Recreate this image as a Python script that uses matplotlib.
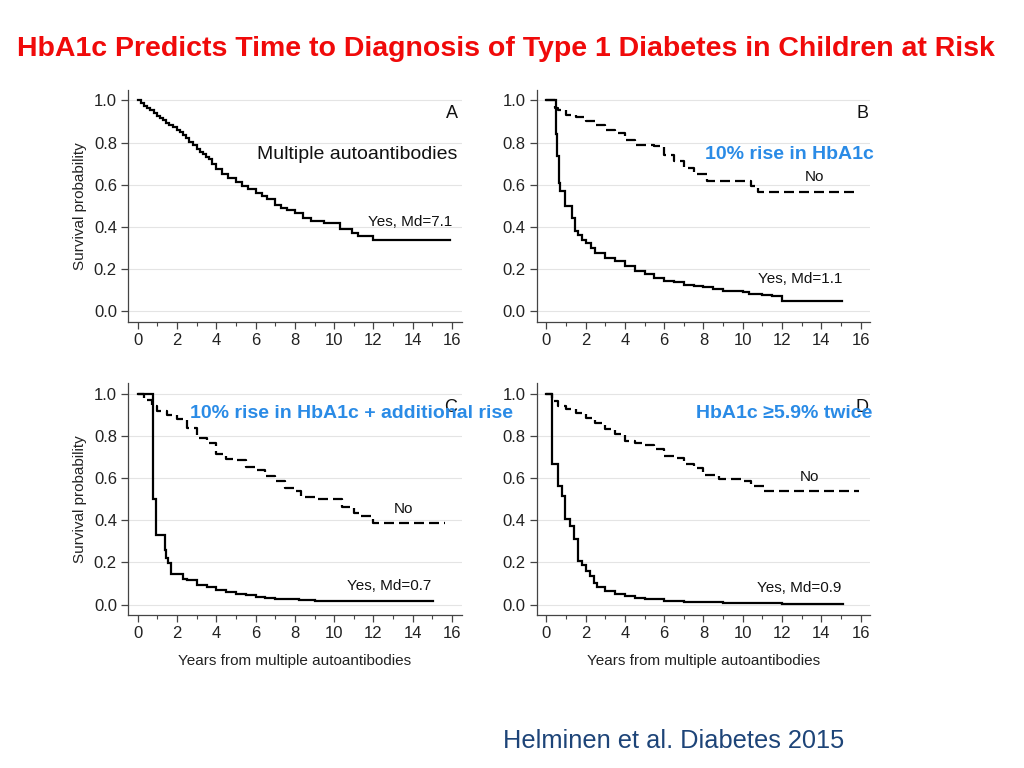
import matplotlib
matplotlib.use('Agg')
import matplotlib.pyplot as plt
from matplotlib.ticker import MultipleLocator

plt.rcParams['font.family'] = ['Liberation Sans', 'DejaVu Sans']

# Kaplan-Meier curves: time at which survival steps to value
a_yes_t = [0, 0.15, 0.3, 0.45, 0.6, 0.8, 1.0, 1.15, 1.3, 1.45, 1.6, 1.8, 2.0, 2.15, 2.3, 2.45,
           2.6, 2.8, 3.0, 3.15, 3.3, 3.45, 3.6, 3.8, 4.0, 4.3, 4.6, 5.0, 5.3, 5.6, 6.0, 6.3,
           6.6, 7.0, 7.3, 7.6, 8.0, 8.4, 8.8, 9.5, 10.3, 10.9, 11.2, 12.0, 15.9]
a_yes_s = [1.0, 0.988, 0.975, 0.965, 0.955, 0.94, 0.925, 0.915, 0.905, 0.895, 0.885, 0.872,
           0.86, 0.848, 0.835, 0.82, 0.805, 0.788, 0.77, 0.757, 0.745, 0.732, 0.72, 0.698,
           0.675, 0.65, 0.63, 0.615, 0.595, 0.58, 0.56, 0.545, 0.53, 0.505, 0.49, 0.478,
           0.465, 0.442, 0.43, 0.419, 0.39, 0.37, 0.359, 0.34, 0.34]

b_yes_t = [0, 0.5, 0.56, 0.62, 0.7, 0.97, 1.28, 1.45, 1.6, 1.8, 2.0, 2.25, 2.5, 3.0, 3.5, 4.0,
           4.5, 5.0, 5.5, 6.0, 6.5, 7.0, 7.5, 8.0, 8.5, 9.0, 10.0, 10.3, 11.0, 11.5, 12.0, 15.05]
b_yes_s = [1.0, 0.84, 0.735, 0.61, 0.57, 0.50, 0.44, 0.38, 0.363, 0.34, 0.324, 0.30, 0.276, 0.253,
           0.237, 0.213, 0.19, 0.177, 0.158, 0.145, 0.137, 0.126, 0.122, 0.114, 0.106, 0.098,
           0.09, 0.082, 0.076, 0.071, 0.05, 0.05]
b_no_t = [0, 0.46, 0.6, 1.0, 1.5, 2.0, 2.5, 3.0, 3.5, 4.0, 4.5, 5.5, 6.0, 6.5, 7.0, 7.5, 8.2,
          10.4, 10.8, 15.73]
b_no_s = [1.0, 0.964, 0.956, 0.932, 0.92, 0.90, 0.885, 0.861, 0.845, 0.814, 0.79, 0.782, 0.742,
          0.714, 0.679, 0.651, 0.616, 0.592, 0.566, 0.566]

c_yes_t = [0, 0.76, 0.93, 1.36, 1.45, 1.53, 1.7, 2.3, 2.5, 3.0, 3.5, 4.0, 4.5, 5.0, 5.5, 6.0,
           6.5, 7.0, 8.2, 9.0, 15.05]
c_yes_s = [1.0, 0.50, 0.332, 0.26, 0.22, 0.198, 0.147, 0.123, 0.119, 0.092, 0.084, 0.071, 0.059,
           0.052, 0.044, 0.035, 0.03, 0.027, 0.021, 0.016, 0.016]
c_no_t = [0, 0.3, 0.7, 1.0, 1.5, 2.0, 2.5, 3.0, 3.5, 4.0, 4.5, 5.0, 5.5, 6.0, 6.5, 7.0, 7.5, 8.0,
          8.3, 9.0, 10.4, 11.0, 11.3, 12.0, 15.66]
c_no_s = [1.0, 0.97, 0.94, 0.918, 0.90, 0.878, 0.838, 0.79, 0.767, 0.712, 0.691, 0.684, 0.653,
          0.638, 0.609, 0.585, 0.554, 0.538, 0.51, 0.50, 0.462, 0.435, 0.419, 0.388, 0.388]

d_yes_t = [0, 0.29, 0.6, 0.8, 0.95, 1.2, 1.4, 1.6, 1.8, 2.0, 2.2, 2.4, 2.6, 3.0, 3.5, 4.0, 4.5,
           5.0, 6.0, 7.0, 9.0, 12.0, 15.08]
d_yes_s = [1.0, 0.665, 0.562, 0.514, 0.407, 0.373, 0.309, 0.206, 0.19, 0.158, 0.134, 0.103,
           0.082, 0.063, 0.051, 0.04, 0.03, 0.025, 0.019, 0.013, 0.008, 0.003, 0.003]
d_no_t = [0, 0.3, 0.6, 1.0, 1.5, 2.0, 2.5, 3.0, 3.5, 4.0, 4.5, 5.0, 5.5, 6.0, 6.5, 7.0, 7.5, 8.0,
          8.8, 10.0, 10.4, 11.1, 15.93]
d_no_s = [1.0, 0.968, 0.94, 0.926, 0.91, 0.886, 0.862, 0.834, 0.81, 0.778, 0.767, 0.755, 0.737,
          0.706, 0.697, 0.665, 0.65, 0.617, 0.597, 0.585, 0.562, 0.538, 0.538]

panel_letters = ['A', 'B', 'C', 'D']
blue_labels = ['', '10% rise in HbA1c', '10% rise in HbA1c + additional rise', 'HbA1c \u22655.9% twice']
yes_labels = ['Yes, Md=7.1', 'Yes, Md=1.1', 'Yes, Md=0.7', 'Yes, Md=0.9']

RED = '#f00a0a'
BLUE = '#2a8be6'
NAVY = '#1d4478'
AXC = '#444444'

fig = plt.figure(figsize=(10.24, 7.68), dpi=100)

# left, bottom, width, height in figure fractions
pos = [(0.125, 0.581, 0.326, 0.302), (0.524, 0.581, 0.326, 0.302),
       (0.125, 0.199, 0.326, 0.302), (0.524, 0.199, 0.326, 0.302)]
axs = [fig.add_axes(p) for p in pos]


def style(ax, left, bottom):
    ax.set_xlim(-0.5, 16.5)
    ax.set_ylim(-0.05, 1.05)
    for s in ['top', 'right']:
        ax.spines[s].set_visible(False)
    for s in ['left', 'bottom']:
        ax.spines[s].set_color(AXC)
        ax.spines[s].set_linewidth(0.9)
    ax.xaxis.set_minor_locator(MultipleLocator(1))
    ax.set_xticks(range(0, 17, 2))
    ax.set_yticks([0, 0.2, 0.4, 0.6, 0.8, 1.0])
    ax.set_yticklabels(['0.0', '0.2', '0.4', '0.6', '0.8', '1.0'])
    ax.tick_params(axis='both', which='major', direction='out', length=5, width=0.9,
                   color=AXC, labelsize=12, labelcolor='#222222', pad=3)
    ax.tick_params(axis='x', which='minor', direction='out', length=3, width=0.8, color=AXC)
    ax.grid(axis='y', color='#e4e4e4', linewidth=0.8)
    ax.set_axisbelow(True)
    if left:
        ax.set_ylabel('Survival probability', fontsize=11, color='#222222', labelpad=5)
    if bottom:
        ax.set_xlabel('Years from multiple autoantibodies', fontsize=11, color='#222222', labelpad=9)


def km(ax, t, s, dashed=False):
    ls = (0, (4.5, 2.25)) if dashed else '-'
    ax.plot(t, s, drawstyle='steps-post', color='black', lw=1.6, linestyle=ls,
            solid_joinstyle='miter', zorder=3)


style(axs[0], True, False)
style(axs[1], False, False)
style(axs[2], True, True)
style(axs[3], False, True)

km(axs[0], a_yes_t, a_yes_s)
km(axs[1], b_no_t, b_no_s, dashed=True)
km(axs[1], b_yes_t, b_yes_s)
km(axs[2], c_no_t, c_no_s, dashed=True)
km(axs[2], c_yes_t, c_yes_s)
km(axs[3], d_no_t, d_no_s, dashed=True)
km(axs[3], d_yes_t, d_yes_s)

# panel letters
letter_xy = [(16.0, 0.936), (16.1, 0.936), (15.93, 0.934), (16.05, 0.934)]
for ax, L, (x, y) in zip(axs, panel_letters, letter_xy):
    ax.text(x, y, L, fontsize=13, ha='center', va='center', color='#111111', zorder=4)

# "Yes" labels
yes_xy = [(16.0, 0.425), (15.08, 0.155), (14.96, 0.09), (15.03, 0.08)]
for ax, lab, (x, y) in zip(axs, yes_labels, yes_xy):
    ax.text(x, y, lab, fontsize=11, ha='right', va='center', color='#111111')

# "No" labels
no_xy = [(13.65, 0.638), (13.55, 0.455), (13.4, 0.607)]
for ax, (x, y) in zip(axs[1:], no_xy):
    ax.text(x, y, 'No', fontsize=11, ha='center', va='center', color='#111111')

axs[0].text(16.25, 0.745, 'Multiple autoantibodies', fontsize=14, ha='right', va='center',
            color='#111111')
axs[1].text(16.7, 0.745, blue_labels[1], fontsize=14, fontweight='bold', ha='right',
            va='center', color=BLUE, clip_on=False, zorder=5)
axs[2].text(2.65, 0.905, blue_labels[2], fontsize=14, fontweight='bold', ha='left',
            va='center', color=BLUE, clip_on=False, zorder=5)
axs[3].text(16.6, 0.905, blue_labels[3], fontsize=14, fontweight='bold', ha='right',
            va='center', color=BLUE, clip_on=False, zorder=5)

fig.text(0.494, 0.936, 'HbA1c Predicts Time to Diagnosis of Type 1 Diabetes in Children at Risk',
         fontsize=20.5, fontweight='bold', color=RED, ha='center', va='center')
fig.text(0.658, 0.035, 'Helminen et al. Diabetes 2015', fontsize=18.3, color=NAVY,
         ha='center', va='center')

fig.savefig('out.png', dpi=100)
